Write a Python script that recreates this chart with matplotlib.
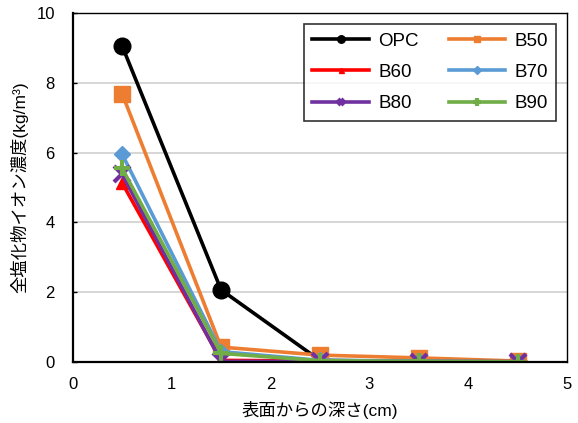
import matplotlib
matplotlib.use('Agg')
import matplotlib.pyplot as plt

plt.rcParams['font.family'] = ['Liberation Sans', 'Noto Sans CJK JP', 'DejaVu Sans']

# depth from surface (cm) and chloride content per mix
depth = [0.5, 1.5, 2.5, 3.5, 4.5]
series_names = ['OPC', 'B50', 'B60', 'B70', 'B80', 'B90']
opc = [9.05, 2.07, 0.05, 0.02, 0.01]
b50 = [7.68, 0.43, 0.20, 0.12, 0.03]
b60 = [5.13, 0.05, 0.03, 0.02, 0.01]
b70 = [5.95, 0.30, 0.05, 0.03, 0.01]
b80 = [5.38, 0.02, 0.02, 0.01, 0.01]
b90 = [5.55, 0.25, 0.04, 0.02, 0.01]
values = [opc, b50, b60, b70, b80, b90]

colors = ['#000000', '#ED7D31', '#FF0000', '#5B9BD5', '#7030A0', '#70AD47']
markers = ['o', 's', '^', 'D', 'x', '+']
msizes = [12, 11, 8, 8, 11, 12]

fig = plt.figure(figsize=(5.78, 4.23), dpi=100)
ax = fig.add_axes([0.126, 0.144, 0.855, 0.825])

handles = []
for name, vals, c, m, ms in zip(series_names, values, colors, markers, msizes):
    line, = ax.plot(depth, vals, color=c, marker=m, markersize=ms, linewidth=2.6,
                    markeredgewidth=3 if m in ('x', '+') else 1, label=name)
    handles.append(line)

ax.set_xlim(0, 5)
ax.set_ylim(0, 10)
ax.set_xticks(range(0, 6))
ax.set_yticks(range(0, 11, 2))
ax.yaxis.grid(True, color='#D0D0D0', linewidth=1.2)
ax.set_axisbelow(True)
ax.tick_params(axis='x', labelsize=12, length=0, pad=11)
ax.tick_params(axis='y', labelsize=12, direction='in', length=3, width=1, pad=13)

for side in ['left', 'bottom']:
    ax.spines[side].set_linewidth(1.6)
for side in ['top', 'right']:
    ax.spines[side].set_linewidth(1.0)

ax.set_xlabel('表面からの深さ(cm)', fontsize=12.5, labelpad=6)
ax.set_ylabel('全塩化物イオン濃度(kg/m³)', fontsize=12.5, labelpad=6)

# legend reads row by row: OPC B50 / B60 B70 / B80 B90
order = [0, 2, 4, 1, 3, 5]
leg = ax.legend([handles[i] for i in order], [series_names[i] for i in order],
                loc='upper right', ncol=2, fontsize=13.5, markerscale=0.45,
                frameon=True, fancybox=False, edgecolor='black',
                handlelength=3.0, handletextpad=0.5, columnspacing=1.6,
                borderpad=0.45, labelspacing=0.75, borderaxespad=0,
                bbox_to_anchor=(0.978, 0.968))
leg.get_frame().set_linewidth(1.2)

fig.savefig('out.png', dpi=100)
